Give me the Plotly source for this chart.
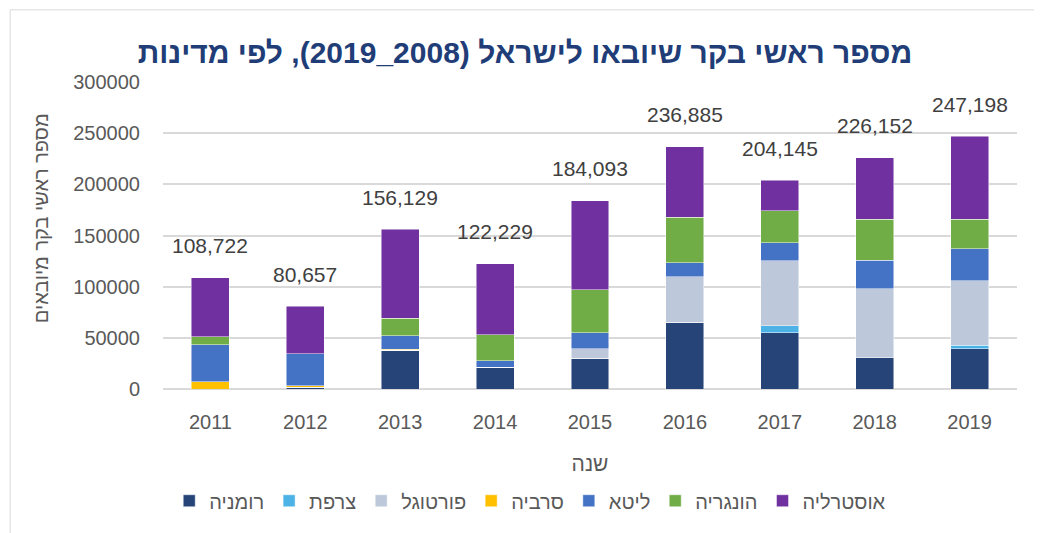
import plotly.graph_objects as go

years = ["2011", "2012", "2013", "2014", "2015", "2016", "2017", "2018", "2019"]
totals = [108722, 80657, 156129, 122229, 184093, 236885, 204145, 226152, 247198]

romania = [0, 1500, 38000, 21200, 30000, 65000, 54800, 30300, 39100]
france = [0, 0, 0, 0, 0, 0, 6800, 0, 3600]
portugal = [0, 0, 0, 0, 9200, 44600, 63600, 67500, 63300]
serbia = [7150, 1500, 1000, 0, 0, 0, 0, 0, 0]
lithuania = [36250, 31300, 12900, 6200, 16000, 13700, 17700, 27800, 31300]
hungary = [7900, 0, 17000, 25500, 41800, 44400, 31300, 40400, 28700]
# Australia = remainder to the labelled totals
australia = [t - (r + f + p + s + l + h) for t, r, f, p, s, l, h in
             zip(totals, romania, france, portugal, serbia, lithuania, hungary)]

series_names = ["רומניה", "צרפת", "פורטוגל", "סרביה", "ליטא", "הונגריה", "אוסטרליה"]
series_values = [romania, france, portugal, serbia, lithuania, hungary, australia]
colors = ["#264478", "#4DB3E6", "#BDC9DA", "#FFC000", "#4472C4", "#70AD47", "#7030A0"]

title_text = "\u202bמספר ראשי בקר שיובאו לישראל (2008_2019), לפי מדינות\u202c"
y_title = "\u202bמספר ראשי בקר מיובאים\u202c"
x_title = "שנה"

FONT = "Liberation Sans, DejaVu Sans, sans-serif"

fig = go.Figure()
for name, vals, col in zip(series_names, series_values, colors):
    fig.add_trace(go.Bar(
        x=years, y=vals, name=name,
        marker=dict(color=col, line=dict(color="rgba(255,255,255,0.6)", width=0.8)),
    ))

# total labels: positioned by category index on the category axis
for idx, tot in enumerate(totals):
    fig.add_annotation(x=idx, y=tot, xref="x", yref="y", text=f"{tot:,}", showarrow=False,
                       yanchor="middle", yshift=32,
                       font=dict(family=FONT, size=21, color="#404040"))

# y-axis title (placed slightly above the plot centre, as in the original)
fig.add_annotation(x=-0.143, y=0.556, xref="paper", yref="paper", text=y_title,
                   textangle=-90, showarrow=False, xanchor="center", yanchor="middle",
                   font=dict(family=FONT, size=20, color="#595959"))

fig.update_layout(
    barmode="stack",
    bargap=0.6,
    width=1034, height=525,
    margin=dict(l=155, r=25, t=74, b=144, autoexpand=False),
    paper_bgcolor="white", plot_bgcolor="white",
    font=dict(family=FONT, color="#595959"),
    title=dict(text=title_text, x=0.5, xref="container", xanchor="center",
               y=0.916, yref="container", yanchor="middle",
               font=dict(family=FONT, size=30, color="#213D78", weight="bold")),
    showlegend=True,
    legend=dict(orientation="h", x=0.43, xanchor="center", y=-0.364, yanchor="middle",
                traceorder="normal", font=dict(family=FONT, size=20, color="#595959"),
                itemwidth=30),
    xaxis=dict(
        type="category",
        categoryorder="array", categoryarray=years,
        range=[-0.5, len(years) - 0.5],
        tickfont=dict(family=FONT, size=20, color="#595959"),
        title=dict(text=x_title, font=dict(family=FONT, size=21, color="#595959"), standoff=24),
        showline=False, ticks="", ticklabelstandoff=19,
    ),
    yaxis=dict(
        range=[0, 300000], dtick=50000, tickformat="d",
        tickfont=dict(family=FONT, size=20, color="#595959"),
        showgrid=True, gridcolor="#D9D9D9", gridwidth=1.5,
        zeroline=True, zerolinecolor="#D9D9D9", zerolinewidth=1.5,
        ticks="", ticklabelstandoff=22,
    ),
    shapes=[
        dict(type="line", xref="paper", yref="paper", x0=-0.179, x1=1.05, y0=1.235, y1=1.235,
             line=dict(color="#D9D9D9", width=1)),
        dict(type="line", xref="paper", yref="paper", x0=-0.179, x1=-0.179, y0=1.235, y1=-0.5,
             line=dict(color="#D9D9D9", width=1)),
    ],
)

fig.write_html("out.html")
